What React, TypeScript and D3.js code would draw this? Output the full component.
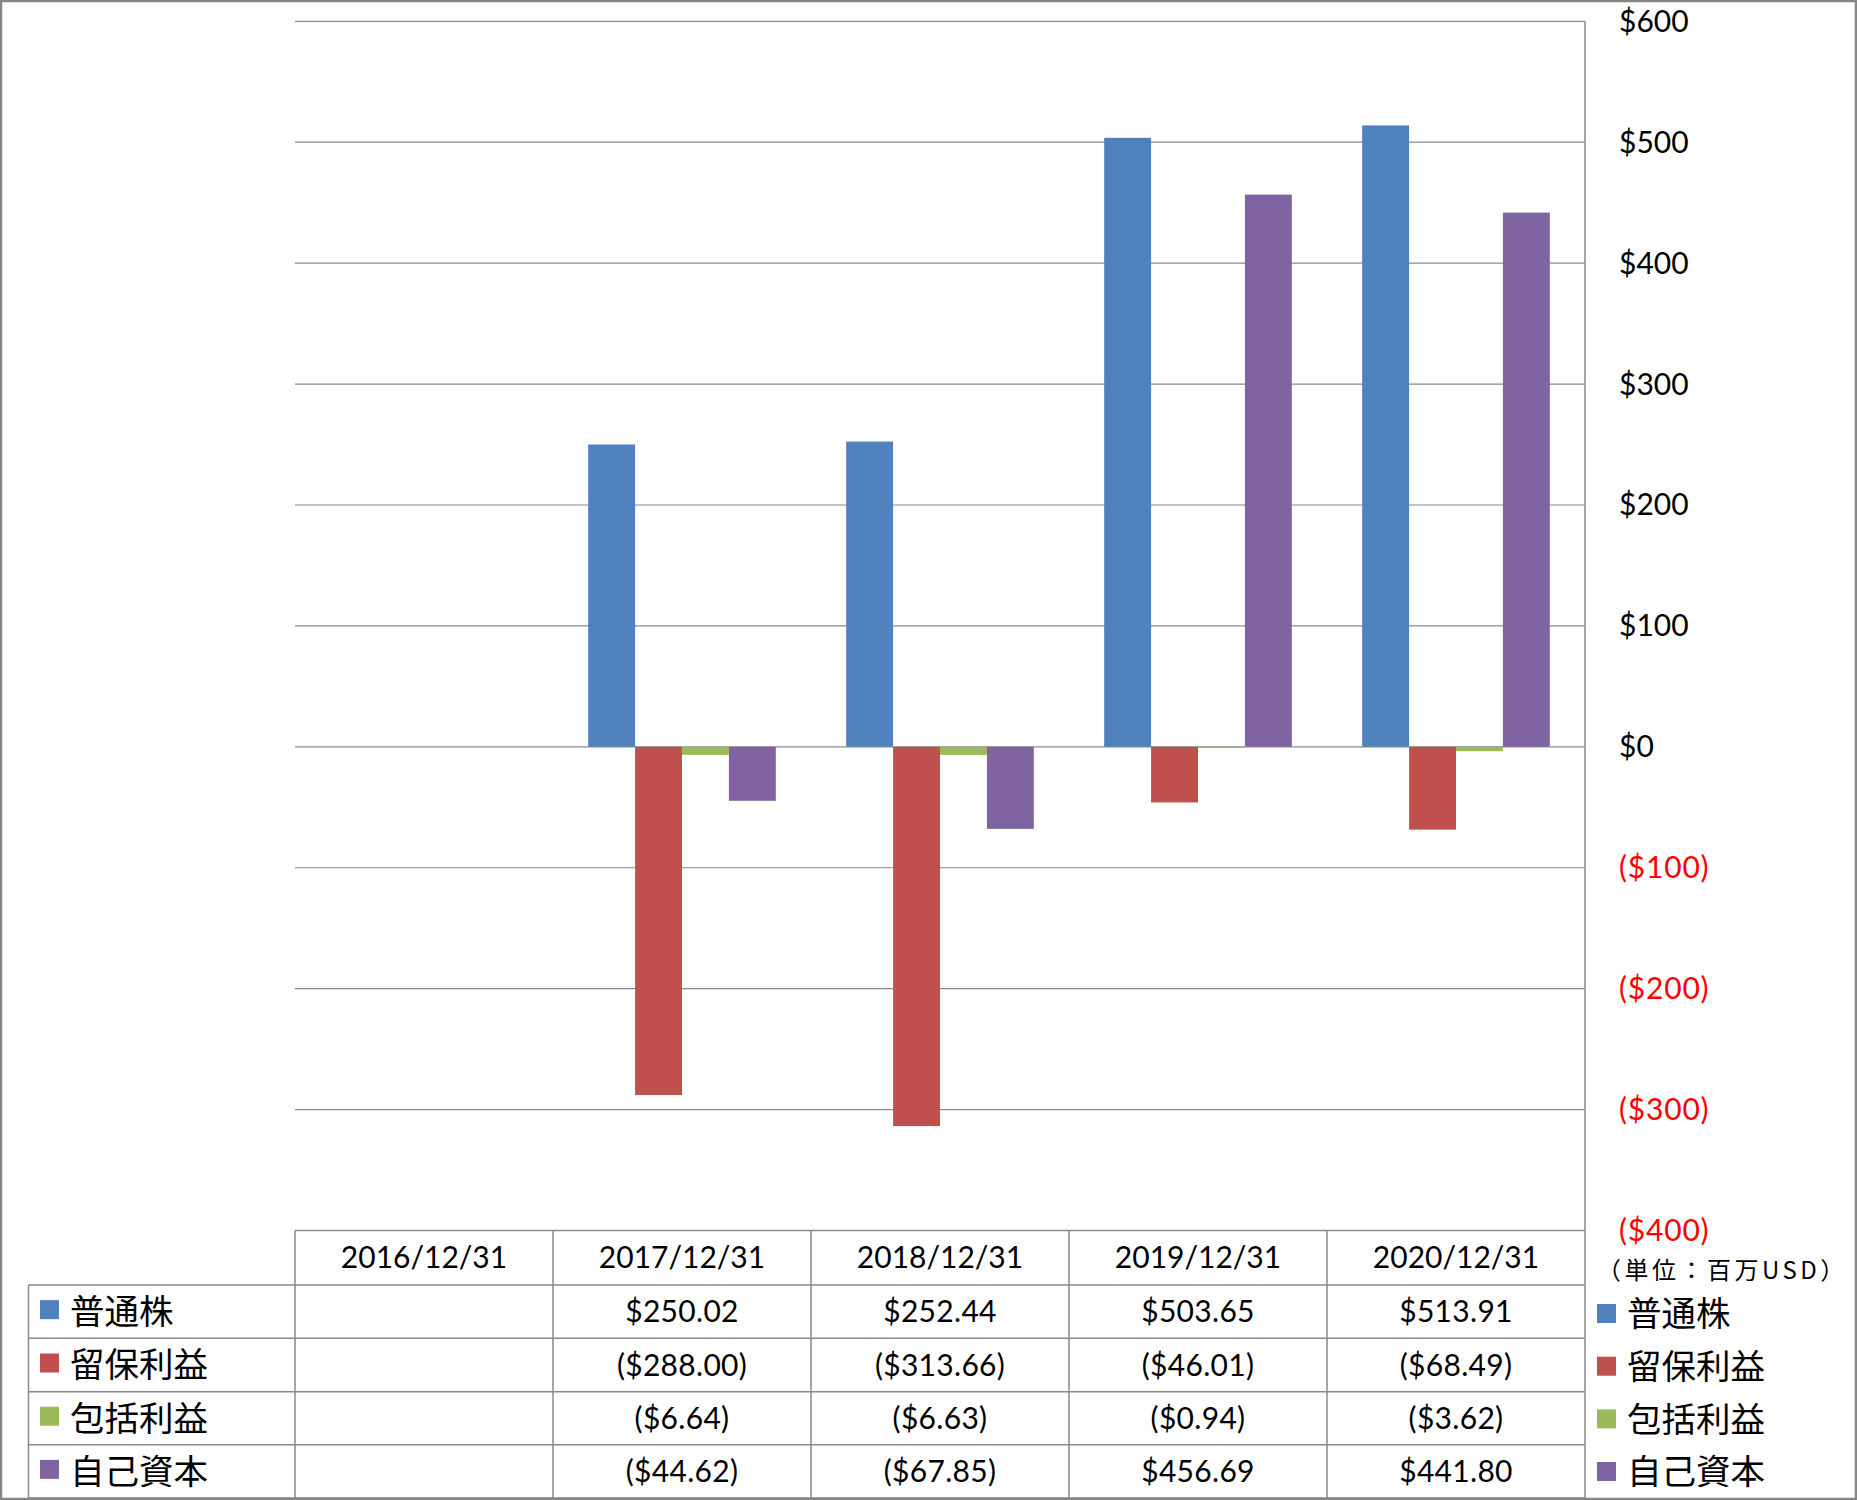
import React from "react";
import * as d3 from "d3";

const categories = ["2016/12/31", "2017/12/31", "2018/12/31", "2019/12/31", "2020/12/31"];
const seriesNames = ["普通株", "留保利益", "包括利益", "自己資本"];
const seriesColors = ["#4F81BD", "#C0504D", "#9BBB59", "#8064A2"];
const commonStock: (number | null)[] = [null, 250.02, 252.44, 503.65, 513.91];
const retainedEarnings: (number | null)[] = [null, -288.0, -313.66, -46.01, -68.49];
const comprehensiveIncome: (number | null)[] = [null, -6.64, -6.63, -0.94, -3.62];
const equity: (number | null)[] = [null, -44.62, -67.85, 456.69, 441.8];
const seriesValues = [commonStock, retainedEarnings, comprehensiveIncome, equity];
const yTicks = [600, 500, 400, 300, 200, 100, 0, -100, -200, -300, -400];
const unitLabel = "（単位：百万USD）";

const W = 1857;
const H = 1500;
const plotLeft = 295;
const plotRight = 1585;
const plotTop = 21.3;
const plotBottom = 1230.5;
const tableLeft = 28.5;
const rowLines = [1285, 1338.3, 1391.7, 1444.8, 1498];
const rightLegendY = [1314, 1366.7, 1419.4, 1472];

const LATIN = "Lato, 'Open Sans', sans-serif";
const CJK = "'Noto Sans CJK JP', sans-serif";
const GRID = "#8a8a8a";

const fmt = (v: number) => {
  const s = "$" + d3.format(",.2f")(Math.abs(v));
  return v < 0 ? `(${s})` : s;
};
const fmtTick = (v: number) => (v < 0 ? `($${Math.abs(v)})` : `$${v}`);

export default function App() {
  const x = d3.scaleBand<string>().domain(categories).range([plotLeft, plotRight]).paddingInner(0).paddingOuter(0);
  const xs = d3
    .scaleBand<string>()
    .domain(seriesNames)
    .range([0, x.bandwidth()])
    .paddingInner(0)
    .paddingOuter(0.75);
  const y = d3.scaleLinear().domain([-400, 600]).range([plotBottom, plotTop]);

  const headerMid = (plotBottom + rowLines[0]) / 2;
  const rowMid = (i: number) => (rowLines[i] + rowLines[i + 1]) / 2;

  return (
    <div style={{ position: "absolute", left: 0, top: 0 }}>
      <svg width={W} height={H} style={{ display: "block", background: "#fff" }}>
        <rect x={0} y={0} width={W} height={H} fill="#fff" />
        {yTicks.map((t) => (
          <line key={t} x1={plotLeft} x2={plotRight} y1={y(t)} y2={y(t)} stroke={GRID} strokeWidth={1.2} />
        ))}
        {seriesValues.map((vals, si) =>
          vals.map((v, ci) =>
            v === null ? null : (
              <rect
                key={`${si}-${ci}`}
                x={(x(categories[ci]) as number) + (xs(seriesNames[si]) as number)}
                width={xs.bandwidth()}
                y={Math.min(y(v), y(0))}
                height={Math.abs(y(v) - y(0))}
                fill={seriesColors[si]}
              />
            )
          )
        )}
        <line x1={plotRight} x2={plotRight} y1={plotTop} y2={H - 2} stroke={GRID} strokeWidth={1.5} />
        {yTicks.map((t) => (
          <text
            key={t}
            x={1619}
            y={y(t)}
            dy="0.35em"
            fontFamily={LATIN}
            fontSize={30}
            letterSpacing={t < 0 ? 0.8 : 0}
            fill={t < 0 ? "#FF0000" : "#000"}
          >
            {fmtTick(t)}
          </text>
        ))}
        <text x={1597} y={1271} dy="0.35em" fontFamily={CJK} fontSize={24} letterSpacing={3.5} fill="#000">
          {unitLabel}
        </text>
        <g stroke={GRID} strokeWidth={1.5}>
          <line x1={plotLeft} x2={plotRight} y1={plotBottom} y2={plotBottom} />
          {rowLines.map((ry, i) => (
            <line key={i} x1={tableLeft} x2={plotRight} y1={ry} y2={ry} />
          ))}
          <line x1={tableLeft} x2={tableLeft} y1={rowLines[0]} y2={rowLines[4]} />
          {categories.map((c) => (
            <line key={c} x1={x(c) as number} x2={x(c) as number} y1={plotBottom} y2={rowLines[4]} />
          ))}
        </g>
        {categories.map((c) => (
          <text
            key={c}
            x={(x(c) as number) + x.bandwidth() / 2}
            y={headerMid}
            dy="0.35em"
            textAnchor="middle"
            fontFamily={LATIN}
            fontSize={30}
          >
            {c}
          </text>
        ))}
        {seriesNames.map((name, si) => (
          <g key={name}>
            <rect x={40} y={rowMid(si) - 11.5} width={19} height={19} fill={seriesColors[si]} />
            <text x={70} y={rowMid(si)} dy="0.36em" fontFamily={CJK} fontSize={34.5}>
              {name}
            </text>
            {seriesValues[si].map((v, ci) =>
              v === null ? null : (
                <text
                  key={ci}
                  x={(x(categories[ci]) as number) + x.bandwidth() / 2}
                  y={rowMid(si)}
                  dy="0.35em"
                  textAnchor="middle"
                  fontFamily={LATIN}
                  fontSize={30}
                  letterSpacing={0.3}
                >
                  {fmt(v)}
                </text>
              )
            )}
            <rect x={1597} y={rightLegendY[si] - 10} width={19} height={19} fill={seriesColors[si]} />
            <text x={1627} y={rightLegendY[si]} dy="0.36em" fontFamily={CJK} fontSize={34.5}>
              {name}
            </text>
          </g>
        ))}
        <rect x={1} y={1} width={W - 2} height={H - 2} fill="none" stroke="#868686" strokeWidth={2.5} />
      </svg>
    </div>
  );
}
